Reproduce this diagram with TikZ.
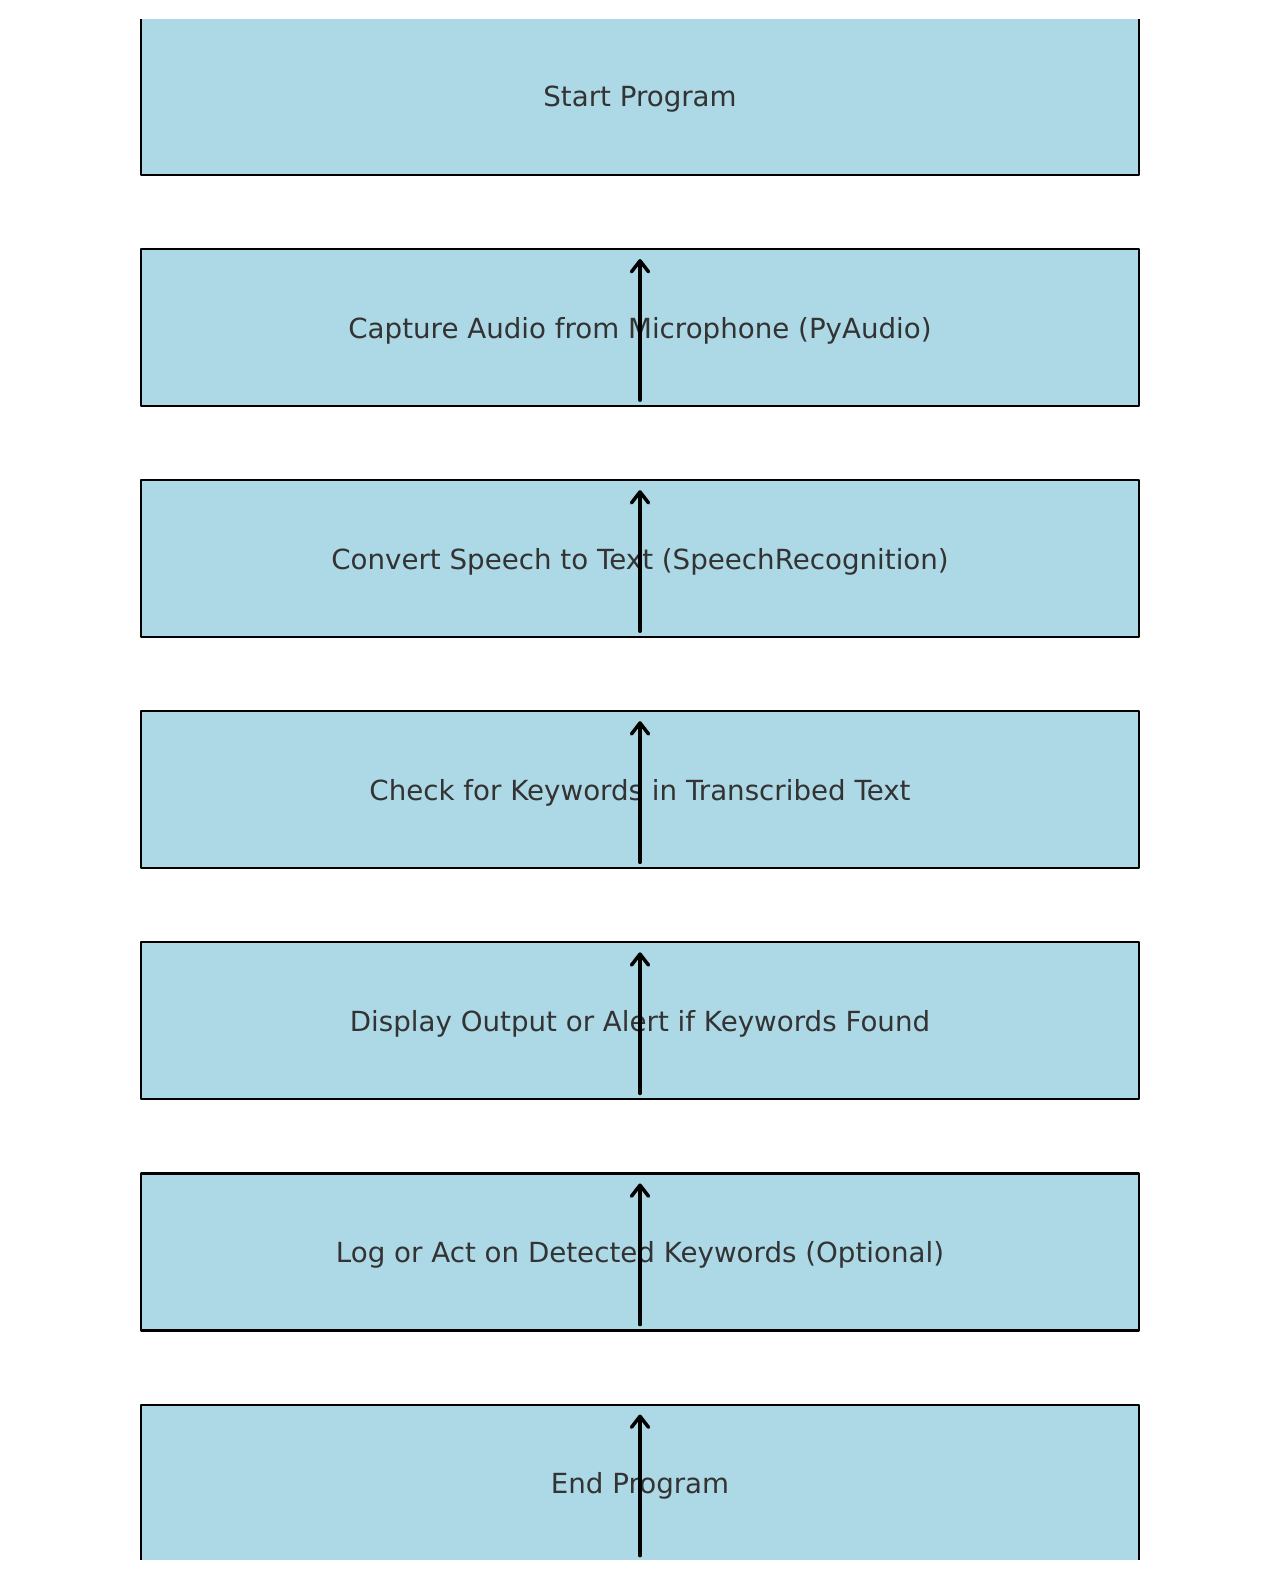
\documentclass[tikz,border=0pt]{standalone}
\usepackage{fontspec}
\setmainfont{DejaVu Sans}
\usetikzlibrary{positioning,arrows.meta}
\definecolor{boxblue}{HTML}{ADD8E6}
\definecolor{labelgray}{HTML}{333333}

\begin{document}
\begin{tikzpicture}[x=1pt,y=1pt,node distance=72pt]
    \tikzstyle{process}=[rectangle,draw=black,line width=2.1pt,line join=round,fill=boxblue,minimum width=998pt,minimum height=157pt,inner sep=0pt,text depth=0pt,text=labelgray,font=\fontsize{27.7}{33}\selectfont]
    \tikzstyle{flow}=[line width=3.5pt,-{Straight Barb[length=11pt,width=17pt,line cap=round,line join=round]},line cap=round]
    \useasboundingbox (0,0) rectangle (1280,1580);
    \clip (0,20) rectangle (1280,1560);
    % The boxes, from top to bottom
      \node[process] (start) at (640,1483.5) {Start Program};
      \node[process, below=of start] (capture) {Capture Audio from Microphone (PyAudio)};
      \node[process, below=of capture] (convert) {Convert Speech to Text (SpeechRecognition)};
      \node[process, below=of convert] (check) {Check for Keywords in Transcribed Text};
      \node[process, below=of check] (display) {Display Output or Alert if Keywords Found};
      \node[process, below=of display] (log) {Log or Act on Detected Keywords (Optional)};
      \node[process, below=of log] (stop) {End Program};
    % The arrows inside each box
    \foreach \name in {capture,convert,check,display,log,stop}
      \draw[flow] ([yshift=7pt]\name.south) -- ([yshift=-11pt]\name.north);
\end{tikzpicture}
\end{document}
